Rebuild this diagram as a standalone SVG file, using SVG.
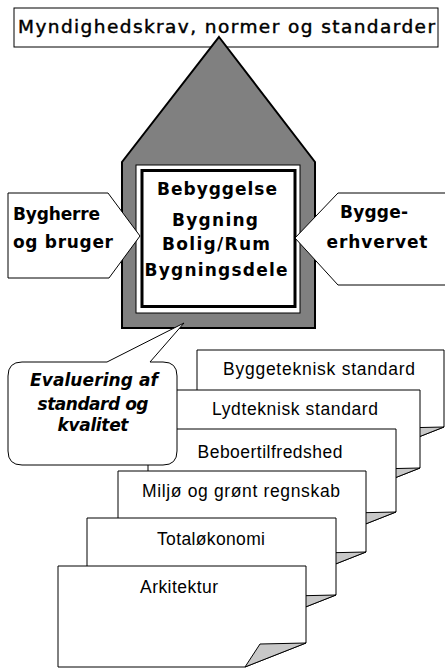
<svg xmlns="http://www.w3.org/2000/svg" width="445" height="668" viewBox="0 0 445 668">
<style>
.ln{stroke:#000;stroke-width:1;fill:#fff}
.fold{fill:#c8c8c8;stroke:#000;stroke-width:1;stroke-linejoin:round}
.bt{font-family:"DejaVu Sans",sans-serif;font-weight:bold;font-size:17px;fill:#000}
.tt{font-family:"DejaVu Sans",sans-serif;font-size:18.5px;fill:#000;stroke:#000;stroke-width:0.45}
.pt{font-family:"Liberation Sans",Arial,sans-serif;font-size:17.5px;fill:#000;text-anchor:middle}
.it{font-family:"DejaVu Sans",sans-serif;font-weight:bold;font-style:italic;font-size:17px;fill:#000;text-anchor:middle}
</style>
<rect width="445" height="668" fill="#fff"/>
<g id="title">
<rect x="14" y="8" width="424" height="39" class="ln"/>
<text x="18" y="33" class="tt" textLength="417">Myndighedskrav, normer og standarder</text>
</g>
<g id="house">
<polygon points="219,37 315,162 315,328 122,328 122,162" fill="#808080" stroke="#000" stroke-width="2" stroke-linejoin="miter"/>
<rect x="136" y="165" width="164" height="148" class="ln"/>
<rect x="142" y="170.5" width="153" height="136" fill="#fff" stroke="#000" stroke-width="3"/>
<g class="bt" text-anchor="middle">
<text x="217" y="195" textLength="120">Bebyggelse</text>
<text x="215" y="226" textLength="86">Bygning</text>
<text x="216" y="250" textLength="108">Bolig/Rum</text>
<text x="216" y="276" textLength="143">Bygningsdele</text>
</g>
</g>
<g id="bygherre">
<polygon points="8,193 108,193 140,236 109,278 8,278" class="ln"/>
<text x="13" y="220" class="bt" textLength="87">Bygherre</text>
<text x="13" y="248" class="bt" textLength="100">og bruger</text>
</g>
<g id="byggeerhvervet">
<polygon points="338,193 446,193 446,285 338,285 295,238" class="ln"/>
<text x="374" y="218" class="bt" text-anchor="middle" textLength="68">Bygge-</text>
<text x="377" y="248" class="bt" text-anchor="middle" textLength="101">erhvervet</text>
</g>
<g id="page1">
<path d="M197,350 H444 V427 L383,451 H197 Z" class="ln"/>
<path d="M398,428 L444,427 L383,451 Z" class="fold"/>
<text x="319" y="375" class="pt" textLength="192">Byggeteknisk standard</text>
</g>
<g id="page2">
<path d="M172,390 H420 V468 L359,492 H172 Z" class="ln"/>
<path d="M374,469 L420,468 L359,492 Z" class="fold"/>
<text x="295" y="415" class="pt" textLength="166">Lydteknisk standard</text>
</g>
<g id="page3">
<path d="M148,429 H396 V512 L335,536 H148 Z" class="ln"/>
<path d="M350,513 L396,512 L335,536 Z" class="fold"/>
<text x="270" y="458" class="pt" textLength="145">Beboertilfredshed</text>
</g>
<g id="page4">
<path d="M118,471 H366 V552 L305,576 H118 Z" class="ln"/>
<path d="M320,553 L366,552 L305,576 Z" class="fold"/>
<text x="241" y="497" class="pt" textLength="198">Miljø og grønt regnskab</text>
</g>
<g id="page5">
<path d="M87,518 H336 V595 L275,619 H87 Z" class="ln"/>
<path d="M290,596 L336,595 L275,619 Z" class="fold"/>
<text x="211" y="545" class="pt" textLength="108">Totaløkonomi</text>
</g>
<g id="page6">
<path d="M58,566 H306 V643 L245,667 H58 Z" class="ln"/>
<path d="M260,644 L306,643 L245,667 Z" class="fold"/>
<text x="179" y="593" class="pt" textLength="78">Arkitektur</text>
</g>
<g id="evaluering">
<path d="M22,362 H107 L184,323 L150,362 H163 Q177,362 177,376 V451 Q177,465 163,465 H22 Q8,465 8,451 V376 Q8,362 22,362 Z" class="ln"/>
<text x="94" y="386" class="it" textLength="128">Evaluering af</text>
<text x="93" y="410" class="it" textLength="111">standard og</text>
<text x="93" y="431" class="it" textLength="71">kvalitet</text>
</g>
<g id="connectors"></g>
</svg>
